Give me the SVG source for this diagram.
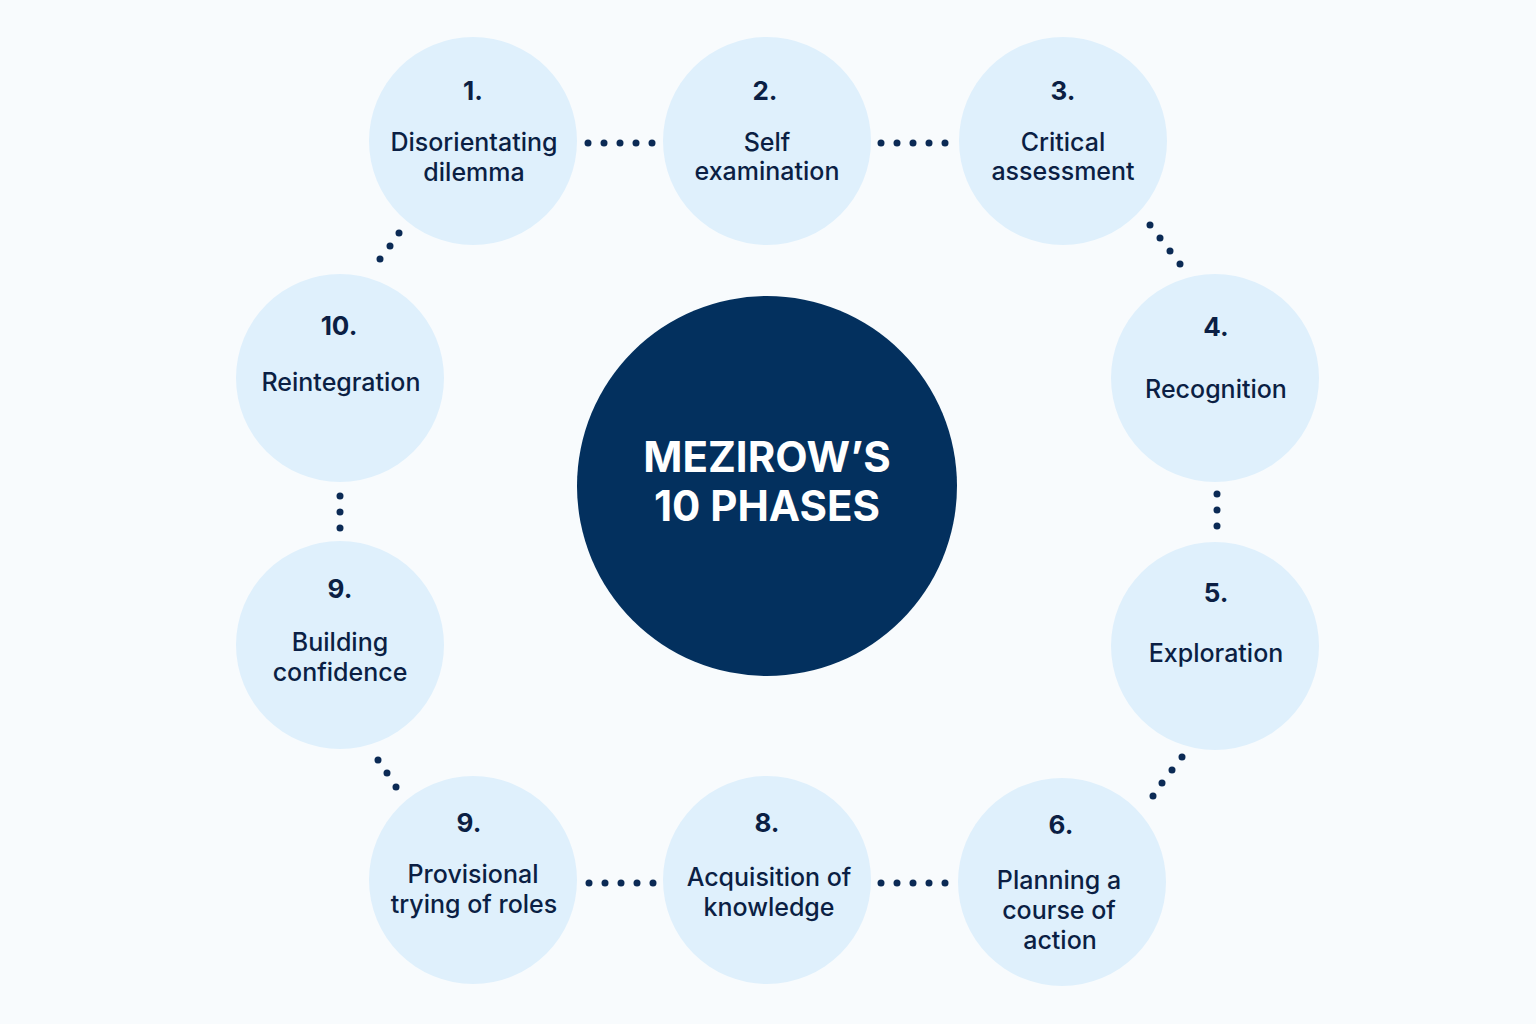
<svg xmlns="http://www.w3.org/2000/svg" width="1536" height="1024" viewBox="0 0 1536 1024">
<style>
.n{fill:#DFF0FC}
.t{font-family:Inter,"Noto Sans",sans-serif;fill:#0B1F44;text-anchor:middle;font-size:25px;font-weight:500}
.num{font-weight:700;font-size:26px}
.d{fill:#0B2A55}
</style>
<rect width="1536" height="1024" fill="#F8FBFD"/>
<g id="connectors">
<g class="d">
<circle cx="588" cy="143" r="3.5"/><circle cx="604" cy="143" r="3.5"/><circle cx="620" cy="143" r="3.5"/><circle cx="636" cy="143" r="3.5"/><circle cx="652" cy="143" r="3.5"/>
<circle cx="881" cy="143" r="3.5"/><circle cx="897" cy="143" r="3.5"/><circle cx="913" cy="143" r="3.5"/><circle cx="929" cy="143" r="3.5"/><circle cx="945" cy="143" r="3.5"/>
<circle cx="589" cy="883" r="3.5"/><circle cx="605" cy="883" r="3.5"/><circle cx="621" cy="883" r="3.5"/><circle cx="637" cy="883" r="3.5"/><circle cx="653" cy="883" r="3.5"/>
<circle cx="881" cy="883" r="3.5"/><circle cx="897" cy="883" r="3.5"/><circle cx="913" cy="883" r="3.5"/><circle cx="929" cy="883" r="3.5"/><circle cx="945" cy="883" r="3.5"/>
<circle cx="1150" cy="225" r="3.5"/><circle cx="1160" cy="238" r="3.5"/><circle cx="1170" cy="251" r="3.5"/><circle cx="1180" cy="264" r="3.5"/>
<circle cx="1217" cy="494" r="3.5"/><circle cx="1217" cy="510" r="3.5"/><circle cx="1217" cy="526" r="3.5"/>
<circle cx="1182" cy="757" r="3.5"/><circle cx="1172" cy="770" r="3.5"/><circle cx="1162" cy="783" r="3.5"/><circle cx="1153" cy="796" r="3.5"/>
<circle cx="378" cy="760" r="3.5"/><circle cx="387" cy="773" r="3.5"/><circle cx="396" cy="787" r="3.5"/>
<circle cx="340" cy="496" r="3.5"/><circle cx="340" cy="512" r="3.5"/><circle cx="340" cy="528" r="3.5"/>
<circle cx="380" cy="259" r="3.5"/><circle cx="390" cy="246" r="3.5"/><circle cx="399" cy="233" r="3.5"/>
</g>
</g>
<g id="center"><circle cx="767" cy="486" r="190" fill="#03305E"/>
<text x="767" y="472" font-family="Inter,'Noto Sans',sans-serif" font-size="42" font-weight="700" fill="#FFFFFF" text-anchor="middle">MEZIROW’S</text>
<text x="767" y="521" font-family="Inter,'Noto Sans',sans-serif" font-size="42" font-weight="700" fill="#FFFFFF" text-anchor="middle">10 PHASES</text></g>
<g id="n1"><circle class="n" cx="473" cy="141" r="104"/><text class="t num" x="473" y="100">1.</text><text class="t" x="474" y="151">Disorientating</text><text class="t" x="474" y="181">dilemma</text></g>
<g id="n2"><circle class="n" cx="767" cy="141" r="104"/><text class="t num" x="765" y="100">2.</text><text class="t" x="767" y="151">Self</text><text class="t" x="767" y="180">examination</text></g>
<g id="n3"><circle class="n" cx="1063" cy="141" r="104"/><text class="t num" x="1063" y="100">3.</text><text class="t" x="1063" y="151">Critical</text><text class="t" x="1063" y="180">assessment</text></g>
<g id="n4"><circle class="n" cx="1215" cy="378" r="104"/><text class="t num" x="1216" y="336">4.</text><text class="t" x="1216" y="398">Recognition</text></g>
<g id="n5"><circle class="n" cx="1215" cy="646" r="104"/><text class="t num" x="1216" y="602">5.</text><text class="t" x="1216" y="662">Exploration</text></g>
<g id="n6"><circle class="n" cx="1062" cy="882" r="104"/><text class="t num" x="1061" y="834">6.</text><text class="t" x="1059" y="889">Planning a</text><text class="t" x="1059" y="919">course of</text><text class="t" x="1060" y="949">action</text></g>
<g id="n8"><circle class="n" cx="767" cy="880" r="104"/><text class="t num" x="767" y="832">8.</text><text class="t" x="769" y="886">Acquisition of</text><text class="t" x="769" y="916">knowledge</text></g>
<g id="n9b"><circle class="n" cx="473" cy="880" r="104"/><text class="t num" x="469" y="832">9.</text><text class="t" x="473" y="883">Provisional</text><text class="t" x="474" y="913">trying of roles</text></g>
<g id="n9l"><circle class="n" cx="340" cy="645" r="104"/><text class="t num" x="340" y="598">9.</text><text class="t" x="340" y="651">Building</text><text class="t" x="340" y="681">confidence</text></g>
<g id="n10"><circle class="n" cx="340" cy="378" r="104"/><text class="t num" x="339" y="335">10.</text><text class="t" x="341" y="391">Reintegration</text></g>
</svg>
